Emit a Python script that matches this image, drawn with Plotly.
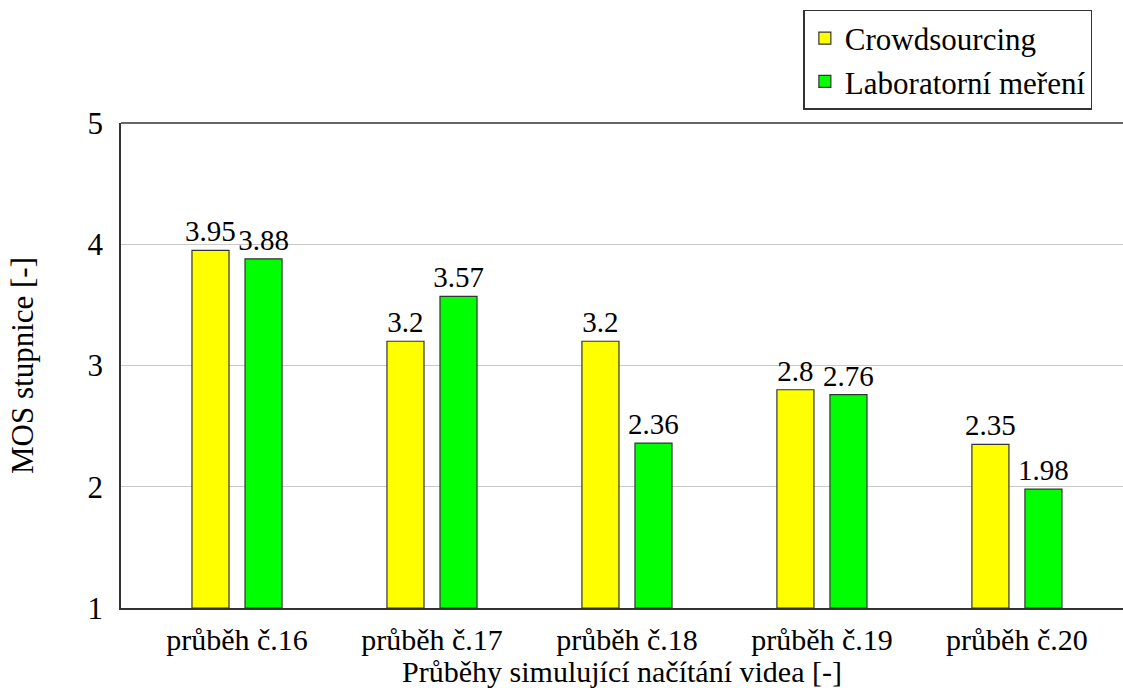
import plotly.graph_objects as go

categories = ["průběh č.16", "průběh č.17", "průběh č.18", "průběh č.19", "průběh č.20"]
crowd = [3.95, 3.2, 3.2, 2.8, 2.35]
lab = [3.88, 3.57, 2.36, 2.76, 1.98]
crowd_labels = ["3.95", "3.2", "3.2", "2.8", "2.35"]
lab_labels = ["3.88", "3.57", "2.36", "2.76", "1.98"]
y_ticks = [1, 2, 3, 4, 5]

FONT = "Liberation Serif"
FS = 31
xs = list(range(len(categories)))
W = 0.19

fig = go.Figure()
fig.add_trace(go.Bar(
    x=xs, y=[v - 1 for v in crowd], base=1, name="Crowdsourcing",
    width=W, offset=-0.231,
    marker=dict(color="#ffff00", line=dict(color="#333333", width=1.2)),
    text=crowd_labels, textposition="outside", cliponaxis=False,
    constraintext="none",
    textfont=dict(family=FONT, size=29, color="black"),
))
fig.add_trace(go.Bar(
    x=xs, y=[v - 1 for v in lab], base=1, name="Laboratorní meření",
    width=W, offset=0.041,
    marker=dict(color="#00ff00", line=dict(color="#333333", width=1.2)),
    text=lab_labels, textposition="outside", cliponaxis=False,
    constraintext="none",
    textfont=dict(family=FONT, size=29, color="black"),
))

fig.update_layout(
    width=1123, height=688, autosize=False,
    margin=dict(l=121, r=0, t=123, b=80, autoexpand=False),
    paper_bgcolor="white", plot_bgcolor="white",
    barmode="overlay",
    font=dict(family=FONT, size=FS, color="black"),
    showlegend=True,
    legend=dict(
        x=0.681, y=1.233, xanchor="left", yanchor="top",
        bordercolor="#333333", borderwidth=1.5, bgcolor="white",
        font=dict(family=FONT, size=FS), tracegroupgap=0,
    ),
    xaxis=dict(
        tickmode="array", tickvals=xs, ticktext=categories,
        range=[-0.595, 4.544], showgrid=False, zeroline=False,
        showline=True, linecolor="#333333", linewidth=1.5,
        ticks="", ticklabelstandoff=4, automargin=False,
        tickfont=dict(family=FONT, size=30),
        title=dict(text="Průběhy simulující načítání videa [-]", standoff=4,
                   font=dict(family=FONT, size=30)),
    ),
    yaxis=dict(
        range=[1, 5], tickmode="array", tickvals=y_ticks,
        showgrid=True, gridcolor="#c8c8c8", gridwidth=1, zeroline=False,
        showline=True, linecolor="#333333", linewidth=1.5,
        ticks="", ticklabelstandoff=10, automargin=False,
        tickfont=dict(family=FONT, size=FS),
        title=dict(text="MOS stupnice [-]", standoff=45,
                   font=dict(family=FONT, size=FS)),
    ),
    shapes=[dict(type="line", xref="paper", yref="paper", x0=0, x1=1, y0=1, y1=1,
                 line=dict(color="#333333", width=1.5))],
)

fig.write_html("out.html", config={"responsive": False, "displayModeBar": False},
               post_script="document.body.style.margin='0';document.body.style.overflow='hidden';")
